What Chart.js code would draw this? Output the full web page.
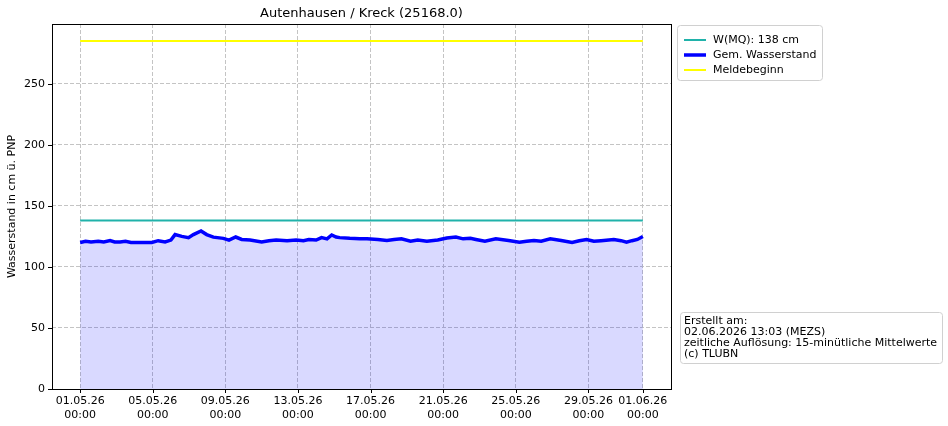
<!DOCTYPE html>
<html>
<head>
<meta charset="utf-8">
<script src="https://cdn.jsdelivr.net/npm/chart.js@4"></script>
<style>
  body { margin: 0; background: #fff; }
  #wrap { width: 948px; height: 426px; }
</style>
</head>
<body>
<div id="wrap"><canvas id="pegel"></canvas></div>
<script>
const TITLE = 'Autenhausen / Kreck (25168.0)';
const Y_TITLE = 'Wasserstand in cm ü. PNP';

// Tage seit 01.05.26 00:00
const tickDays = [0, 4, 8, 12, 16, 20, 24, 28, 31];
const tickLabels = ['01.05.26', '05.05.26', '09.05.26', '13.05.26', '17.05.26',
                    '21.05.26', '25.05.26', '29.05.26', '01.06.26'];
const yTicks = [0, 50, 100, 150, 200, 250];

const levelDays = [0, 0.3, 0.6, 1, 1.3, 1.65, 1.9, 2.2, 2.5, 2.8, 3, 3.5, 3.95, 4.3, 4.68, 5.0, 5.23, 5.6, 5.97, 6.24,
  6.66, 6.97, 7.34, 7.89, 8.2, 8.57, 8.9, 9.36, 10.0, 10.4, 10.8, 11.4, 11.9, 12.3, 12.6, 13.0, 13.3, 13.6, 13.86,
  14.1, 14.3, 14.85, 15.4, 15.8, 16.4, 16.9, 17.3, 17.7, 18.2, 18.6, 19.1, 19.7, 20.2, 20.7, 21.1, 21.5, 21.8, 22.3, 22.9,
  23.6, 24.2, 24.6, 25.0, 25.4, 25.9, 26.5, 27.1, 27.5, 27.9, 28.3, 28.7, 29.4, 29.8, 30.1, 30.4, 30.7, 31];
const levels = [120, 121, 120.5, 121, 120.5, 121.6, 120.5, 120.5, 121, 120, 120, 120, 120, 121.5, 120.5, 122, 126.5, 125, 124, 126.5,
  129.5, 126.5, 124.4, 123.4, 122, 124.5, 122.5, 122, 120.5, 121.5, 122, 121.5, 122, 121.5, 122.5, 122, 124, 123, 126.2,
  124.5, 124, 123.4, 123, 123, 122.5, 121.7, 122.5, 123, 121, 122, 121, 122, 123.7, 124.5, 123, 123.5, 122.5, 121, 123,
  121.7, 120.3, 121, 121.7, 121, 123, 121.7, 120, 121.5, 122.5, 121, 121.5, 122.5, 121.5, 120.3, 121.5, 122.5, 124.9];

const mqDays = [0, 31];
const mqLevel = [138, 138];
const meldeDays = [0, 31];
const meldeLevel = [285, 285];

const infoLines = ['Erstellt am:', '02.06.2026 13:03 (MEZS)',
  'zeitliche Auflösung: 15-minütliche Mittelwerte', '(c) TLUBN'];

const FONT = 'DejaVu Sans';

function pts(xs, ys) { return xs.map((x, i) => ({ x: x, y: ys[i] })); }

function roundBox(ctx, x, y, w, h) {
  ctx.fillStyle = 'rgba(255,255,255,0.8)';
  ctx.strokeStyle = '#d0d0d0';
  ctx.lineWidth = 1;
  ctx.beginPath();
  ctx.roundRect(x, y, w, h, 3);
  ctx.fill();
  ctx.stroke();
}

// Rahmen, Ticks, Titel, Legende und Infobox wie im Original
const extras = {
  id: 'extras',
  afterDraw(chart) {
    const ctx = chart.ctx;
    const a = chart.chartArea;
    const sx = chart.scales.x, sy = chart.scales.y;
    ctx.save();

    // Achsenrahmen
    ctx.strokeStyle = '#000';
    ctx.lineWidth = 1;
    ctx.strokeRect(Math.round(a.left) + 0.5, Math.round(a.top) + 0.5,
                   Math.round(a.right - a.left), Math.round(a.bottom - a.top));

    // Tick-Striche
    ctx.beginPath();
    tickDays.forEach(v => {
      const px = Math.round(sx.getPixelForValue(v)) + 0.5;
      ctx.moveTo(px, a.bottom); ctx.lineTo(px, a.bottom + 4);
    });
    yTicks.forEach(v => {
      const py = Math.round(sy.getPixelForValue(v)) + 0.5;
      ctx.moveTo(a.left, py); ctx.lineTo(a.left - 4, py);
    });
    ctx.stroke();

    ctx.fillStyle = '#000';
    ctx.font = '13px ' + FONT;
    ctx.textAlign = 'center';
    ctx.textBaseline = 'middle';
    ctx.fillText(TITLE, (a.left + a.right) / 2, 14);

    // Legende
    ctx.font = '11px ' + FONT;
    ctx.textAlign = 'left';
    roundBox(ctx, 677.5, 25.5, 145, 55);
    const ys = [40, 55, 70];
    chart.data.datasets.forEach((ds, k) => {
      ctx.strokeStyle = ds.borderColor;
      ctx.lineWidth = ds.borderWidth;
      ctx.beginPath();
      ctx.moveTo(684, ys[k]);
      ctx.lineTo(706, ys[k]);
      ctx.stroke();
      ctx.fillStyle = '#000';
      ctx.fillText(ds.label, 713, ys[k]);
    });

    // Infobox
    roundBox(ctx, 680.5, 312.5, 262, 51);
    ctx.fillStyle = '#000';
    infoLines.forEach((t, i) => ctx.fillText(t, 684, 321 + i * 11));
    ctx.restore();
  }
};

new Chart(document.getElementById('pegel'), {
  type: 'line',
  data: {
    datasets: [
      {
        label: 'W(MQ): 138 cm',
        data: pts(mqDays, mqLevel),
        borderColor: '#20b2aa',
        borderWidth: 2,
        pointRadius: 0,
        order: 2
      },
      {
        label: 'Gem. Wasserstand',
        data: pts(levelDays, levels),
        borderColor: '#0000ff',
        backgroundColor: 'rgba(0,0,255,0.15)',
        fill: 'origin',
        borderWidth: 3.5,
        pointRadius: 0,
        tension: 0,
        order: 1
      },
      {
        label: 'Meldebeginn',
        data: pts(meldeDays, meldeLevel),
        borderColor: '#ffff00',
        borderWidth: 2,
        pointRadius: 0,
        order: 3
      }
    ]
  },
  options: {
    responsive: true,
    maintainAspectRatio: false,
    animation: false,
    layout: { padding: { top: 24, right: 277, left: 0, bottom: 0 } },
    plugins: {
      legend: { display: false },
      tooltip: { enabled: false }
    },
    scales: {
      x: {
        type: 'linear',
        min: -1.55,
        max: 32.55,
        afterBuildTicks: s => { s.ticks = tickDays.map(v => ({ value: v })); },
        afterFit: s => { s.height = 37; },
        ticks: {
          color: '#000',
          font: { family: FONT, size: 11 },
          maxRotation: 0,
          padding: 6,
          callback: (v) => {
            const i = tickDays.indexOf(v);
            return i >= 0 ? [tickLabels[i], '00:00'] : '';
          }
        },
        grid: { color: '#c4c4c4', drawTicks: false },
        border: { display: false, dash: [4, 2] }
      },
      y: {
        min: 0,
        max: 299,
        afterBuildTicks: s => { s.ticks = yTicks.map(v => ({ value: v })); },
        afterFit: s => { s.width = 52; },
        ticks: {
          color: '#000',
          font: { family: FONT, size: 11 },
          padding: 7
        },
        title: {
          display: true,
          text: Y_TITLE,
          color: '#000',
          font: { family: FONT, size: 11 },
          padding: { top: 6, bottom: 0 }
        },
        grid: { color: '#c4c4c4', drawTicks: false },
        border: { display: false, dash: [4, 2] }
      }
    }
  },
  plugins: [extras]
});
</script>
</body>
</html>
